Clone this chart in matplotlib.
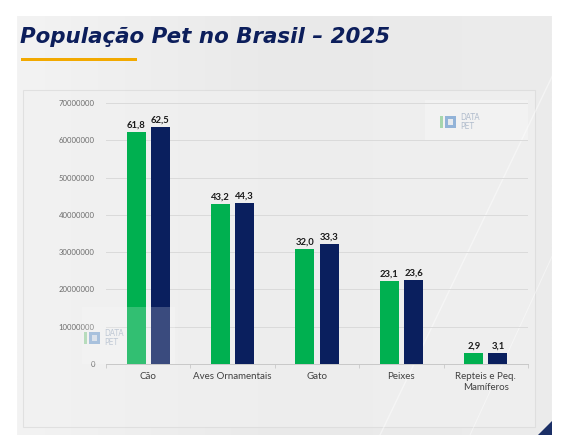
import numpy as np
import matplotlib
matplotlib.use("Agg")
import matplotlib.pyplot as plt
from matplotlib.patches import Rectangle, Polygon

# data (bar heights, labels as printed)
categories = ["Cão", "Aves Ornamentais", "Gato", "Peixes", "Repteis e Peq.\nMamíferos"]
serie_a = [62.3e6, 42.9e6, 30.8e6, 22.2e6, 2.9e6]
serie_b = [63.6e6, 43.2e6, 32.2e6, 22.5e6, 2.95e6]
labels_a = ["61,8", "43,2", "32,0", "23,1", "2,9"]
labels_b = ["62,5", "44,3", "33,3", "23,6", "3,1"]
yticks = np.arange(0, 70000001, 10000000)

green = "#00b050"
navy = "#0a1f5e"
W, H = 580, 446

fig = plt.figure(figsize=(W / 100, H / 100), dpi=100)
fig.patch.set_facecolor("white")

# background layer in pixel coords
bg = fig.add_axes([0, 0, 1, 1])
bg.set_xlim(0, W)
bg.set_ylim(H, 0)
bg.axis("off")

# slide background with soft gradient
grad = np.linspace(0, 1, 256)
grad = np.vstack([grad, grad])
bg.imshow(grad, extent=(17, 552, 435, 16), cmap=matplotlib.colors.LinearSegmentedColormap.from_list(
    "g", ["#f3f3f3", "#e9e9e9", "#ececec"]), aspect="auto", zorder=0)
# chart panel
bg.add_patch(Rectangle((23, 90), 512, 337, facecolor="#f1f1f1", edgecolor="#d6d6d6", lw=0.8, alpha=0.6, zorder=1))
# faint diagonal streaks
bg.plot([380, 560], [435, 60], color="white", lw=1.0, alpha=0.45, zorder=1)
bg.plot([470, 555], [435, 250], color="white", lw=0.7, alpha=0.45, zorder=1)
# bottom-right corner triangle
bg.add_patch(Polygon([[538, 435], [552, 435], [552, 421]], closed=True, facecolor="#1b2f66", zorder=2))

# title and underline
bg.text(20, 43, "População Pet no Brasil – 2025", fontsize=15.4, fontweight="bold", style="italic",
        family="DejaVu Sans", color="#0c1e5b", va="baseline", ha="left", zorder=3)
bg.add_patch(Rectangle((21, 57.7), 116, 3.2, facecolor="#f2a900", edgecolor="none", zorder=3))


def logo(axis, x, y, alpha):
    # small "DATA PET" watermark: icon blocks and text
    axis.add_patch(Rectangle((x, y - 6), 3, 12, facecolor="#9fd3a6", alpha=alpha, edgecolor="none", zorder=3))
    axis.add_patch(Rectangle((x + 5, y - 6), 11, 12, facecolor="#5b8fc9", alpha=alpha * 0.7, edgecolor="none", zorder=3))
    axis.add_patch(Rectangle((x + 8, y - 3), 5, 6, facecolor="#f1f1f1", alpha=alpha, edgecolor="none", zorder=3))
    axis.text(x + 20, y, "DATA\nPET", fontsize=5.5, color="#a9b6c8", alpha=alpha, va="center",
              linespacing=0.9, zorder=3)


# watermark logo top right
bg.add_patch(Rectangle((425, 100), 103, 40, facecolor="white", alpha=0.25, edgecolor="none", zorder=2))
logo(bg, 440, 122, 0.9)

# chart axes
x0, x1 = 106, 528
ax = fig.add_axes([x0 / W, 1 - 364 / H, (x1 - x0) / W, (364 - 103) / H])
ax.patch.set_alpha(0)
x = np.arange(len(categories))
bw = 0.225
off = 0.143
ax.bar(x - off, serie_a, width=bw, color=green, zorder=3)
ax.bar(x + off, serie_b, width=bw, color=navy, zorder=3)

for i in range(len(categories)):
    ax.text(x[i] - off, serie_a[i] + 0.6e6, labels_a[i], ha="center", va="bottom",
            fontsize=6.8, fontweight="bold", family="Lato", color="#1a1a1a")
    ax.text(x[i] + off, serie_b[i] + 0.6e6, labels_b[i], ha="center", va="bottom",
            fontsize=6.8, fontweight="bold", family="Lato", color="#1a1a1a")

ax.set_xlim(-0.5, len(categories) - 0.5)
ax.set_ylim(0, 70000000)
ax.set_yticks(yticks)
ax.set_yticklabels([str(v) for v in yticks])
ax.set_xticks(x)
ax.set_xticklabels(categories)
ax.tick_params(axis="y", length=0, pad=8, labelsize=5.6, labelcolor="#6b6b6b")
ax.tick_params(axis="x", length=0, pad=6, labelsize=7, labelcolor="#404040")
for lab in ax.get_xticklabels() + ax.get_yticklabels():
    lab.set_family("Lato")
ax.set_xticks(np.arange(-0.5, len(categories), 1), minor=True)
ax.tick_params(axis="x", which="minor", length=3, color="#c8c8c8", width=0.6)
ax.grid(axis="y", color="#dadada", lw=0.7, zorder=0)
for s in ["top", "right", "left"]:
    ax.spines[s].set_visible(False)
ax.spines["bottom"].set_color("#c8c8c8")
ax.spines["bottom"].set_linewidth(0.7)

# watermark overlay on the first group
bg2 = fig.add_axes([0, 0, 1, 1])
bg2.set_xlim(0, W)
bg2.set_ylim(H, 0)
bg2.axis("off")
bg2.add_patch(Rectangle((82, 307), 93, 57, facecolor="white", alpha=0.2, edgecolor="none"))
logo(bg2, 84, 338, 0.7)

fig.savefig("out.png", dpi=100, facecolor="white")
